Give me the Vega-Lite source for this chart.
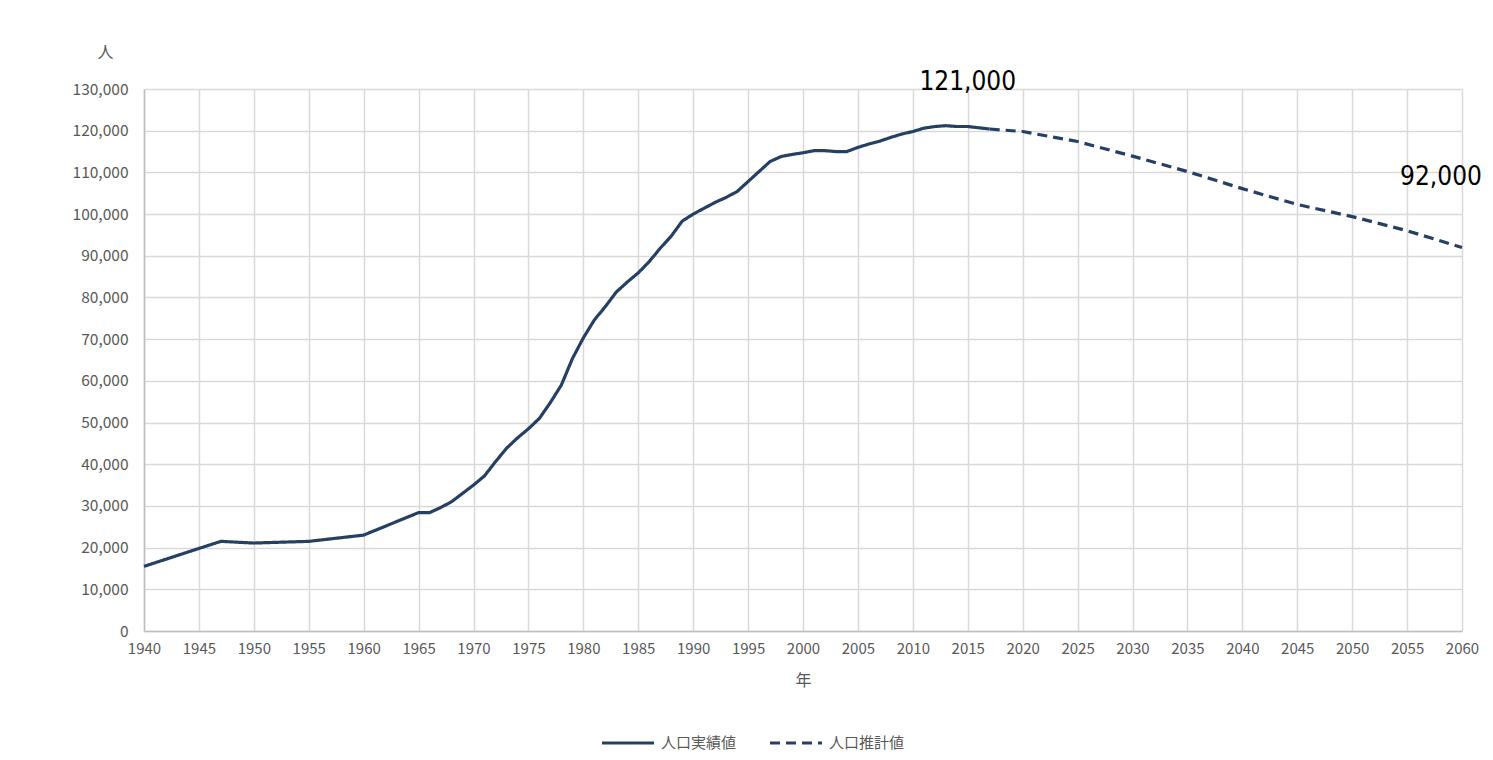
{
  "$schema": "https://vega.github.io/schema/vega-lite/v6.json",
  "width": 1318,
  "height": 542,
  "autosize": "none",
  "padding": {"left": 144, "top": 89, "right": 31, "bottom": 129},
  "background": "white",
  "data": {
    "values": [
      {"year": 1940, "pop": 15500, "series": "人口実績値"},
      {"year": 1945, "pop": 19800, "series": "人口実績値"},
      {"year": 1947, "pop": 21500, "series": "人口実績値"},
      {"year": 1950, "pop": 21100, "series": "人口実績値"},
      {"year": 1955, "pop": 21500, "series": "人口実績値"},
      {"year": 1960, "pop": 23000, "series": "人口実績値"},
      {"year": 1965, "pop": 28400, "series": "人口実績値"},
      {"year": 1966, "pop": 28400, "series": "人口実績値"},
      {"year": 1967, "pop": 29600, "series": "人口実績値"},
      {"year": 1968, "pop": 31000, "series": "人口実績値"},
      {"year": 1969, "pop": 33000, "series": "人口実績値"},
      {"year": 1970, "pop": 35000, "series": "人口実績値"},
      {"year": 1971, "pop": 37200, "series": "人口実績値"},
      {"year": 1972, "pop": 40600, "series": "人口実績値"},
      {"year": 1973, "pop": 43800, "series": "人口実績値"},
      {"year": 1974, "pop": 46300, "series": "人口実績値"},
      {"year": 1975, "pop": 48500, "series": "人口実績値"},
      {"year": 1976, "pop": 51000, "series": "人口実績値"},
      {"year": 1977, "pop": 54800, "series": "人口実績値"},
      {"year": 1978, "pop": 59000, "series": "人口実績値"},
      {"year": 1979, "pop": 65300, "series": "人口実績値"},
      {"year": 1980, "pop": 70300, "series": "人口実績値"},
      {"year": 1981, "pop": 74600, "series": "人口実績値"},
      {"year": 1982, "pop": 77800, "series": "人口実績値"},
      {"year": 1983, "pop": 81300, "series": "人口実績値"},
      {"year": 1984, "pop": 83700, "series": "人口実績値"},
      {"year": 1985, "pop": 85900, "series": "人口実績値"},
      {"year": 1986, "pop": 88600, "series": "人口実績値"},
      {"year": 1987, "pop": 91800, "series": "人口実績値"},
      {"year": 1988, "pop": 94700, "series": "人口実績値"},
      {"year": 1989, "pop": 98300, "series": "人口実績値"},
      {"year": 1990, "pop": 100000, "series": "人口実績値"},
      {"year": 1991, "pop": 101400, "series": "人口実績値"},
      {"year": 1992, "pop": 102800, "series": "人口実績値"},
      {"year": 1993, "pop": 104000, "series": "人口実績値"},
      {"year": 1994, "pop": 105400, "series": "人口実績値"},
      {"year": 1995, "pop": 107800, "series": "人口実績値"},
      {"year": 1996, "pop": 110200, "series": "人口実績値"},
      {"year": 1997, "pop": 112600, "series": "人口実績値"},
      {"year": 1998, "pop": 113800, "series": "人口実績値"},
      {"year": 1999, "pop": 114300, "series": "人口実績値"},
      {"year": 2000, "pop": 114700, "series": "人口実績値"},
      {"year": 2001, "pop": 115200, "series": "人口実績値"},
      {"year": 2002, "pop": 115200, "series": "人口実績値"},
      {"year": 2003, "pop": 115000, "series": "人口実績値"},
      {"year": 2004, "pop": 115000, "series": "人口実績値"},
      {"year": 2005, "pop": 116000, "series": "人口実績値"},
      {"year": 2006, "pop": 116800, "series": "人口実績値"},
      {"year": 2007, "pop": 117500, "series": "人口実績値"},
      {"year": 2008, "pop": 118400, "series": "人口実績値"},
      {"year": 2009, "pop": 119200, "series": "人口実績値"},
      {"year": 2010, "pop": 119800, "series": "人口実績値"},
      {"year": 2011, "pop": 120600, "series": "人口実績値"},
      {"year": 2012, "pop": 121000, "series": "人口実績値"},
      {"year": 2013, "pop": 121200, "series": "人口実績値"},
      {"year": 2014, "pop": 121000, "series": "人口実績値"},
      {"year": 2015, "pop": 121000, "series": "人口実績値", "label": "121,000"},
      {"year": 2016, "pop": 120700, "series": "人口実績値"},
      {"year": 2017, "pop": 120400, "series": "人口実績値"},
      {"year": 2017, "pop": 120400, "series": "人口推計値"},
      {"year": 2020, "pop": 119800, "series": "人口推計値"},
      {"year": 2025, "pop": 117400, "series": "人口推計値"},
      {"year": 2030, "pop": 113900, "series": "人口推計値"},
      {"year": 2035, "pop": 110200, "series": "人口推計値"},
      {"year": 2040, "pop": 106100, "series": "人口推計値"},
      {"year": 2045, "pop": 102300, "series": "人口推計値"},
      {"year": 2050, "pop": 99400, "series": "人口推計値"},
      {"year": 2055, "pop": 96000, "series": "人口推計値"},
      {"year": 2060, "pop": 92000, "series": "人口推計値", "label": "92,000"}
    ]
  },
  "encoding": {
    "x": {
      "field": "year",
      "type": "quantitative",
      "title": "年",
      "scale": {"domain": [1940, 2060], "nice": false, "zero": false},
      "axis": {
        "values": [1940, 1945, 1950, 1955, 1960, 1965, 1970, 1975, 1980, 1985, 1990, 1995, 2000, 2005, 2010, 2015, 2020, 2025, 2030, 2035, 2040, 2045, 2050, 2055, 2060],
        "format": "d",
        "labelFlush": false,
        "labelFontSize": 15,
        "labelPadding": 10,
        "titlePadding": 16,
        "titleFontSize": 16
      }
    },
    "y": {
      "field": "pop",
      "type": "quantitative",
      "title": "人",
      "scale": {"domain": [0, 130000], "nice": false},
      "axis": {
        "values": [0, 10000, 20000, 30000, 40000, 50000, 60000, 70000, 80000, 90000, 100000, 110000, 120000, 130000],
        "format": ",d",
        "labelFontSize": 15.5,
        "labelPadding": 16,
        "titleAngle": 0,
        "titleX": -39,
        "titleY": -37,
        "titleAlign": "center",
        "titleBaseline": "middle",
        "titleFontSize": 16
      }
    }
  },
  "layer": [
    {
      "mark": {"type": "line", "strokeWidth": 3.2, "color": "#264064", "strokeCap": "butt"},
      "encoding": {
        "detail": {"field": "series"},
        "strokeDash": {
          "field": "series",
          "type": "nominal",
          "scale": {"domain": ["人口実績値", "人口推計値"], "range": [[1, 0], [10, 6]]},
          "legend": {
            "title": null,
            "orient": "none",
            "direction": "horizontal",
            "legendX": 456,
            "legendY": 626,
            "symbolType": "stroke",
            "symbolSize": 2704,
            "symbolStrokeWidth": 3.2,
            "symbolStrokeColor": "#264064",
            "labelFontSize": 15,
            "labelOffset": 5,
            "columnPadding": 26
          }
        }
      }
    },
    {
      "transform": [{"filter": "datum.label == '121,000'"}],
      "mark": {"type": "text", "fontSize": 26, "font": "DejaVu Sans Condensed", "color": "#000000", "align": "center", "baseline": "middle", "dy": -45},
      "encoding": {
        "text": {"field": "label"}
      }
    },
    {
      "transform": [{"filter": "datum.label == '92,000'"}],
      "mark": {"type": "text", "fontSize": 26, "font": "DejaVu Sans Condensed", "color": "#000000", "align": "center", "baseline": "middle", "dx": -21, "dy": -70},
      "encoding": {
        "text": {"field": "label"}
      }
    }
  ],
  "config": {
    "font": "Noto Sans CJK JP",
    "view": {"stroke": null},
    "axis": {
      "grid": true,
      "gridColor": "#d9d9d9",
      "gridWidth": 1.5,
      "ticks": false,
      "domainColor": "#bfbfbf",
      "domainWidth": 1.5,
      "labelColor": "#595959",
      "titleColor": "#595959",
      "titleFontWeight": "normal",
      "labelFont": "Noto Sans CJK JP",
      "titleFont": "Noto Sans CJK JP"
    },
    "legend": {
      "labelColor": "#595959",
      "labelFont": "Noto Sans CJK JP"
    }
  }
}
